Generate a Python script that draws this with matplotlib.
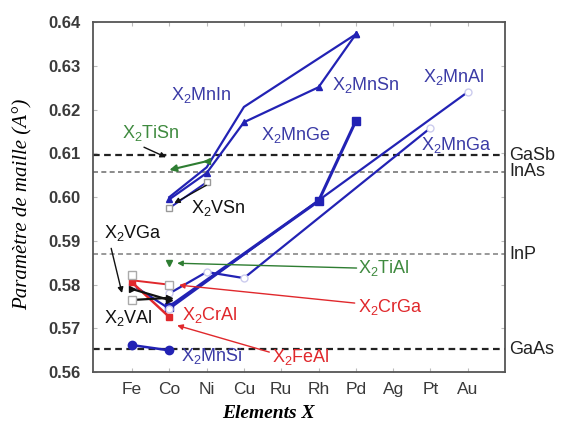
import matplotlib
matplotlib.use("Agg")
import matplotlib.pyplot as plt

plt.rcParams["font.family"] = ["Liberation Sans", "DejaVu Sans"]
plt.rcParams["mathtext.default"] = "regular"

# x positions of the elements
elements = ["Fe", "Co", "Ni", "Cu", "Ru", "Rh", "Pd", "Ag", "Pt", "Au"]
elem_pos = {e: i + 1 for i, e in enumerate(elements)}

# blue series (Mn based)
mnin_x = ["Co", "Ni", "Cu", "Pd"]
mnin_y = [0.6000, 0.6068, 0.6206, 0.6372]
mnsn_x = ["Co", "Ni", "Cu", "Rh", "Pd"]
mnsn_y = [0.5995, 0.6055, 0.6171, 0.6251, 0.6372]
vsn_x = ["Co", "Ni"]
vsn_y = [0.5975, 0.6034]
mnge_x = ["Co", "Rh", "Pd"]
mnge_y = [0.5750, 0.5991, 0.6174]
mnal_x = ["Fe", "Co", "Au"]
mnal_y = [0.5800, 0.5745, 0.6240]
mnga_x = ["Co", "Ni", "Cu", "Pt"]
mnga_y = [0.5780, 0.5829, 0.5815, 0.6158]
mnsi_x = ["Fe", "Co"]
mnsi_y = [0.5662, 0.5650]

# red series
cral_x = ["Fe", "Co"]
cral_y = [0.5805, 0.5726]
crga_x = ["Fe", "Co"]
crga_y = [0.5810, 0.5800]

# black series
vga_x = ["Fe", "Co"]
vga_y = [0.5790, 0.5765]
val_x = ["Fe", "Co"]
val_y = [0.5765, 0.5770]

# green series
tisn_x = ["Co", "Ni"]
tisn_y = [0.6062, 0.6082]
tial_x = ["Co"]
tial_y = [0.5849]

# open (experimental) points
open_x = ["Fe", "Fe", "Co"]
open_y = [0.5822, 0.5766, 0.5799]

# reference semiconductors
subs_names = ["GaSb", "InAs", "InP", "GaAs"]
subs_vals = [0.6096, 0.6058, 0.5869, 0.5653]
subs_colors = ["#222222", "#777777", "#888888", "#222222"]

# compound labels: text, x, y, colour
lbl_text = ["X$_2$MnIn", "X$_2$MnSn", "X$_2$MnAl", "X$_2$MnGe", "X$_2$MnGa",
            "X$_2$TiSn", "X$_2$VSn", "X$_2$VGa", "X$_2$TiAl", "X$_2$CrGa",
            "X$_2$CrAl", "X$_2$VAl", "X$_2$MnSi", "X$_2$FeAl"]
lbl_x = [2.05, 6.35, 8.80, 4.47, 8.74, 0.73, 2.59, 0.25, 7.05, 7.05,
         2.34, 0.25, 2.32, 4.76]
lbl_y = [0.6233, 0.6256, 0.6274, 0.6142, 0.6119, 0.6146, 0.5975, 0.5918,
         0.5838, 0.5749, 0.5730, 0.5723, 0.5636, 0.5634]

BLUE = "#2222b4"
LBLUE = "#3b3ba6"
RED = "#e0282c"
GREEN = "#2e7d32"
LGREEN = "#3f8a3f"
BLACK = "#111111"
lbl_col = [LBLUE, LBLUE, LBLUE, LBLUE, LBLUE, LGREEN, BLACK, BLACK, LGREEN,
           RED, RED, BLACK, LBLUE, RED]

# arrows: (start x, start y, end x, end y, colour)
arr_x0 = [1.32, 7.02, 6.97, 4.68, 0.44, 2.99]
arr_y0 = [0.6114, 0.5838, 0.5758, 0.5646, 0.5883, 0.6027]
arr_x1 = [1.91, 2.21, 2.26, 2.21, 0.73, 2.13]
arr_y1 = [0.6091, 0.5849, 0.5799, 0.5707, 0.5781, 0.5986]
arr_col = [BLACK, GREEN, RED, RED, BLACK, BLACK]


def px(names):
    return [elem_pos[n] for n in names]


fig = plt.figure(figsize=(5.63, 4.23), dpi=100)
ax = fig.add_axes([0.165, 0.12, 0.732, 0.828])

for name, v, c in zip(subs_names, subs_vals, subs_colors):
    lw = 1.6 if c == "#222222" else 1.2
    ax.axhline(v, color=c, ls=(0, (3, 2)), lw=lw, zorder=1)
    ax.text(11.12, v, name, color="#222222", fontsize=13, va="center",
            ha="left", clip_on=False)

# blue lines
ax.plot(px(mnin_x), mnin_y, color=BLUE, lw=1.6, zorder=3)
ax.plot(px(mnin_x)[-1:], mnin_y[-1:], "^", color=BLUE, ms=5, zorder=4)
ax.plot(px(mnsn_x), mnsn_y, color=BLUE, lw=1.6, marker="^", ms=5, zorder=3)
ax.plot(px(vsn_x), vsn_y, color=BLUE, lw=1.4, marker="s", ms=5,
        mfc="white", mec="#999999", zorder=3)
ax.plot(px(mnge_x), mnge_y, color=BLUE, lw=2.2, marker="s", ms=6, zorder=3)
ax.plot(px(mnal_x), mnal_y, color=BLUE, lw=1.6, marker="o", ms=5,
        mfc="white", mec="#ccccee", zorder=3)
ax.plot(px(mnga_x), mnga_y, color=BLUE, lw=1.6, marker="o", ms=5,
        mfc="white", mec="#ccccee", zorder=3)
ax.plot(px(mnsi_x), mnsi_y, color=BLUE, lw=1.8, marker="o", ms=6, zorder=3)

# red
ax.plot(px(cral_x), cral_y, color=RED, lw=1.8, marker="s", ms=5, zorder=3)
ax.plot(px(crga_x), crga_y, color=RED, lw=1.4, zorder=3)

# black
ax.plot(px(vga_x), vga_y, color=BLACK, lw=1.6, marker=">", ms=4, zorder=3)
ax.plot(px(val_x), val_y, color=BLACK, lw=1.6, marker=">", ms=4, zorder=3)

# green
ax.annotate("", xy=(px(tisn_x)[0], tisn_y[0]), xytext=(px(tisn_x)[1], tisn_y[1]),
            arrowprops=dict(arrowstyle="-|>", color=GREEN, lw=1.5,
                            mutation_scale=10, shrinkA=0, shrinkB=0), zorder=3)
ax.plot(px(tisn_x)[1:], tisn_y[1:], "<", color=GREEN, ms=5, zorder=4)
ax.plot(px(tial_x), tial_y, "v", color=GREEN, ms=5, zorder=4)

ax.plot(px(open_x), open_y, "s", ms=6, mfc="white", mec="#aaaaaa", zorder=4)

for x0, y0, x1, y1, c in zip(arr_x0, arr_y0, arr_x1, arr_y1, arr_col):
    ax.annotate("", xy=(x1, y1), xytext=(x0, y0),
                arrowprops=dict(arrowstyle="-|>", color=c, lw=1.0,
                                mutation_scale=8, shrinkA=0, shrinkB=0),
                zorder=5)

for t, x, y, c in zip(lbl_text, lbl_x, lbl_y, lbl_col):
    ax.text(x, y, t, color=c, fontsize=13, ha="left", va="center", zorder=6)

ax.set_xlim(-0.05, 11.0)
ax.set_ylim(0.56, 0.64)
ax.set_xticks(range(1, len(elements) + 1))
ax.set_xticklabels(elements, fontsize=12.5)
ax.set_yticks([0.56, 0.57, 0.58, 0.59, 0.60, 0.61, 0.62, 0.63, 0.64])
ax.set_yticklabels(["0.56", "0.57", "0.58", "0.59", "0.60", "0.61", "0.62",
                    "0.63", "0.64"], fontsize=12, fontweight="bold")
ax.tick_params(direction="in", length=3, color="#bbbbbb", top=True,
               right=True, labelcolor="#3a3a3a")
ax.tick_params(axis="x", pad=7)
ax.tick_params(axis="y", pad=9)
for sp in ax.spines.values():
    sp.set_color("#555555")
    sp.set_linewidth(1.3)

fig.text(23 / 563, 1 - 204 / 423, "Paramètre de maille (A°)",
         family="Liberation Serif", style="italic", fontsize=15,
         rotation=90, ha="center", va="center")
fig.text(268 / 563, 1 - 413 / 423, "Elements X", family="Liberation Serif",
         style="italic", fontweight="bold", fontsize=14, ha="center",
         va="center")

fig.savefig("out.png", dpi=100)
